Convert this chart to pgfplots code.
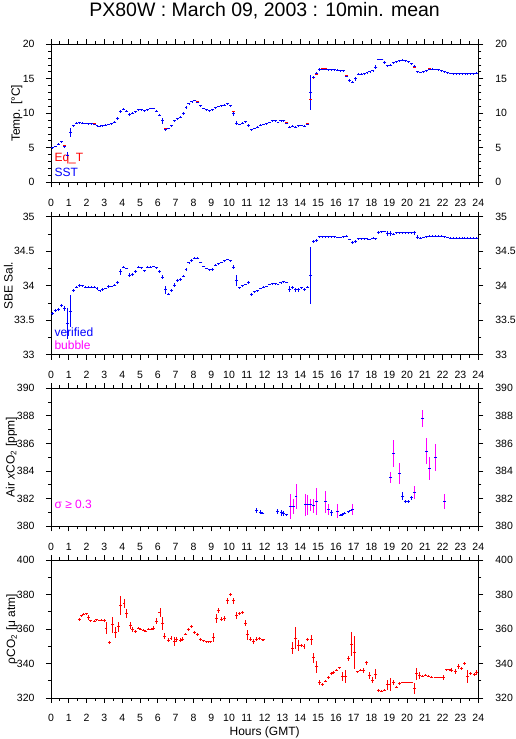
\documentclass[border=0pt]{standalone}
\usepackage{pgfplots}
\usepackage{pgfplotstable}
\pgfplotsset{compat=1.18}
\usepackage{fontspec}
\setmainfont{Liberation Sans}
\definecolor{myblue}{RGB}{0,0,255}
\definecolor{myred}{RGB}{255,0,0}
\definecolor{mymag}{RGB}{255,0,255}

% SST, 10-min means starting at 0:00 (index k -> hour (k+0.5)/6)
\pgfplotstableread[row sep=\\]{y e\\
5.0 0.1\\ 5.2 0.1\\ 5.5 0.15\\ 5.9 0.1\\ 5.2 0.2\\ 3.9 0.5\\ 7.2 0.6\\ 8.2 0.15\\ 8.6 0.1\\ 8.65 0.1\\
8.6 0.1\\ 8.55 0.1\\ 8.5 0.1\\ 8.5 0.1\\ 8.45 0.1\\ 8.2 0.1\\ 8.15 0.1\\ 8.2 0.1\\ 8.3 0.1\\ 8.4 0.1\\
8.5 0.1\\ 8.7 0.15\\ 9.3 0.2\\ 10.3 0.2\\ 10.6 0.1\\ 10.3 0.15\\ 9.8 0.2\\ 10.0 0.15\\ 10.2 0.15\\ 10.5 0.1\\
10.5 0.1\\ 10.4 0.1\\ 10.55 0.1\\ 10.7 0.1\\ 10.7 0.1\\ 10.3 0.15\\ 9.75 0.15\\ 8.9 0.4\\ 7.7 0.2\\ 7.8 0.1\\
8.2 0.15\\ 8.9 0.15\\ 9.2 0.15\\ 9.4 0.15\\ 10.0 0.2\\ 10.8 0.2\\ 11.4 0.15\\ 11.7 0.1\\ 11.9 0.1\\ 11.6 0.15\\
11.1 0.15\\ 10.7 0.1\\ 10.5 0.1\\ 10.4 0.1\\ 10.5 0.15\\ 10.8 0.1\\ 11.0 0.1\\ 11.1 0.1\\ 11.2 0.1\\ 11.4 0.1\\
11.1 0.15\\ 10.0 0.4\\ 8.6 0.3\\ 8.4 0.1\\ 8.6 0.1\\ 8.8 0.1\\ 8.2 0.2\\ 7.6 0.15\\ 7.8 0.1\\ 8.0 0.1\\
8.3 0.1\\ 8.4 0.1\\ 8.5 0.1\\ 8.7 0.1\\ 8.9 0.1\\ 8.9 0.1\\ 8.7 0.1\\ 8.9 0.1\\ 8.9 0.1\\ 8.6 0.15\\
8.0 0.2\\ 8.15 0.1\\ 8.0 0.15\\ 8.2 0.1\\ 8.25 0.1\\ 8.1 0.15\\ 8.45 0.1\\ 13.0 2.5\\ 15.2 0.15\\ 15.8 0.2\\
16.3 0.2\\ 16.4 0.1\\ 16.4 0.1\\ 16.3 0.1\\ 16.3 0.1\\ 16.3 0.1\\ 16.25 0.1\\ 16.2 0.1\\ 16.2 0.1\\ 15.4 0.2\\
14.7 0.2\\ 14.5 0.15\\ 15.0 0.3\\ 15.7 0.1\\ 15.7 0.1\\ 15.75 0.1\\ 15.9 0.1\\ 16.0 0.1\\ 16.15 0.1\\ 16.7 0.25\\
17.8 0.1\\ 17.8 0.1\\ 17.4 0.2\\ 16.9 0.15\\ 17.0 0.1\\ 17.3 0.15\\ 17.5 0.1\\ 17.65 0.1\\ 17.7 0.1\\ 17.65 0.1\\
17.5 0.1\\ 17.2 0.15\\ 16.8 0.25\\ 16.0 0.15\\ 15.95 0.1\\ 16.0 0.1\\ 16.2 0.1\\ 16.4 0.1\\ 16.4 0.1\\ 16.35 0.1\\
16.3 0.1\\ 16.2 0.1\\ 16.0 0.1\\ 15.9 0.1\\ 15.8 0.1\\ 15.75 0.1\\ 15.75 0.1\\ 15.75 0.1\\ 15.75 0.1\\ 15.75 0.1\\
15.75 0.1\\ 15.75 0.1\\ 15.75 0.1\\ 15.8 0.15\\
}\sst

% Eq_T where it differs visibly from SST
\pgfplotstableread[row sep=\\]{x y e\\
0.583 5.95 0.05\\ 0.75 5.3 0.05\\ 2.083 8.55 0.05\\ 2.25 8.55 0.05\\ 2.417 8.5 0.05\\ 6.417 7.8 0.05\\
7.583 10.9 0.05\\ 7.75 11.45 0.05\\ 8.25 11.65 0.05\\ 9.083 10.6 0.05\\ 9.917 11.45 0.05\\ 10.25 10.3 0.1\\
10.917 8.85 0.05\\ 12.417 9.0 0.05\\ 12.583 9.0 0.05\\ 12.917 8.95 0.05\\ 13.083 8.95 0.05\\ 13.25 8.7 0.05\\
14.417 8.55 0.05\\ 14.583 12.0 0.1\\ 14.75 15.15 0.05\\ 14.917 15.7 0.05\\ 15.25 16.45 0.05\\ 15.417 16.45 0.05\\
16.583 15.5 0.05\\ 18.25 16.6 0.05\\ 18.417 17.85 0.05\\ 18.583 17.85 0.05\\ 19.25 17.4 0.05\\ 20.417 16.7 0.05\\
21.25 16.45 0.05\\
}\eqt

% SBE salinity, 10-min means
\pgfplotstableread[row sep=\\]{y e\\
33.6 .02\\ 33.64 .02\\ 33.65 .02\\ 33.71 .02\\ 33.67 .03\\ 33.45 .22\\ 33.63 .23\\ 33.93 .02\\ 33.98 .02\\ 34.0 .02\\
34.0 .01\\ 33.98 .01\\ 33.98 .01\\ 33.98 .01\\ 33.98 .01\\ 33.96 .02\\ 33.93 .01\\ 33.94 .02\\ 33.96 .01\\ 33.99 .02\\
33.99 .01\\ 34.01 .02\\ 34.05 .02\\ 34.2 .04\\ 34.27 .02\\ 34.25 .01\\ 34.15 .03\\ 34.16 .02\\ 34.21 .02\\ 34.27 .02\\
34.26 .01\\ 34.22 .01\\ 34.27 .01\\ 34.27 .01\\ 34.28 .01\\ 34.26 .01\\ 34.21 .02\\ 34.12 .03\\ 33.94 .06\\ 33.88 .02\\
33.93 .02\\ 34.01 .03\\ 34.08 .02\\ 34.09 .02\\ 34.14 .02\\ 34.24 .02\\ 34.33 .02\\ 34.37 .02\\ 34.4 .01\\ 34.4 .01\\
34.34 .01\\ 34.28 .01\\ 34.25 .01\\ 34.23 .01\\ 34.23 .02\\ 34.3 .02\\ 34.32 .01\\ 34.34 .01\\ 34.36 .01\\ 34.38 .01\\
34.36 .01\\ 34.27 .03\\ 34.07 .08\\ 33.97 .01\\ 34.0 .01\\ 34.02 .01\\ 34.05 .02\\ 33.87 .02\\ 33.91 .01\\ 33.93 .01\\
33.96 .01\\ 33.98 .01\\ 33.99 .01\\ 34.02 .01\\ 34.03 .01\\ 34.03 .01\\ 34.02 .01\\ 34.04 .01\\ 34.06 .01\\ 34.05 .01\\
33.95 .04\\ 33.97 .02\\ 33.94 .03\\ 33.94 .03\\ 33.97 .01\\ 33.95 .02\\ 33.98 .01\\ 34.15 .41\\ 34.64 .02\\ 34.66 .02\\
34.71 .01\\ 34.71 .01\\ 34.71 .01\\ 34.71 .01\\ 34.71 .01\\ 34.71 .01\\ 34.70 .01\\ 34.70 .01\\ 34.71 .01\\ 34.72 .02\\
34.67 .01\\ 34.63 .02\\ 34.64 .02\\ 34.68 .01\\ 34.68 .01\\ 34.68 .01\\ 34.68 .01\\ 34.67 .01\\ 34.69 .01\\ 34.68 .01\\
34.77 .02\\ 34.78 .01\\ 34.79 .01\\ 34.76 .04\\ 34.76 .04\\ 34.75 .01\\ 34.77 .01\\ 34.77 .01\\ 34.77 .01\\ 34.77 .01\\
34.77 .01\\ 34.77 .01\\ 34.77 .03\\ 34.70 .03\\ 34.69 .01\\ 34.70 .01\\ 34.71 .01\\ 34.72 .01\\ 34.72 .01\\ 34.72 .01\\
34.72 .01\\ 34.72 .01\\ 34.71 .01\\ 34.70 .01\\ 34.69 .01\\ 34.69 .01\\ 34.69 .01\\ 34.69 .01\\ 34.69 .01\\ 34.69 .01\\
34.69 .01\\ 34.69 .01\\ 34.69 .01\\ 34.69 .01\\
}\sal

% Air xCO2: verified (sigma < 0.3)
\pgfplotstableread[row sep=\\]{x y e\\
11.55 381.16 0.2\\ 11.74 381.04 0.12\\ 11.9 380.95 0.08\\ 12.73 381.07 0.18\\ 12.92 380.97 0.22\\
13.05 380.92 0.2\\ 13.2 380.85 0.05\\ 15.73 380.97 0.2\\ 16.24 380.8 0.08\\ 16.39 380.85 0.08\\
16.5 380.95 0.06\\ 16.7 381.05 0.06\\ 16.8 381.15 0.06\\ 19.76 382.18 0.3\\ 19.89 381.8 0.1\\
20.07 381.8 0.1\\ 20.26 382.08 0.15\\
}\airok
% Air xCO2: sigma >= 0.3
\pgfplotstableread[row sep=\\]{x y e\\
13.43 381.45 0.9\\ 13.6 381.45 0.55\\ 13.76 382.18 0.92\\ 14.27 381.55 0.8\\ 14.42 381.55 0.7\\
14.59 381.55 0.45\\ 14.74 381.5 0.5\\ 14.92 381.78 0.97\\ 15.43 381.78 0.8\\ 15.58 381.2 0.4\\
16.09 381.1 0.5\\ 16.93 381.25 0.4\\ 19.08 383.54 0.42\\ 19.23 385.28 0.97\\ 19.57 383.83 0.75\\
20.41 382.45 0.48\\ 20.88 387.82 0.63\\ 21.07 385.45 0.97\\ 21.24 384.19 0.86\\ 21.57 384.99 0.97\\
22.08 381.8 0.55\\
}\airsig

% pCO2
\pgfplotstableread[row sep=\\]{x y e\\
1.59 365.4 0.8\\ 1.72 367.7 0.6\\ 1.85 368.5 0.5\\ 1.97 368.8 0.5\\ 2.1 366.5 1.5\\ 2.23 364.8 0.6\\
2.42 364.4 0.6\\ 2.57 365.4 0.5\\ 2.72 365.0 0.5\\ 2.85 365.2 0.5\\ 2.98 365.0 1.0\\ 3.09 360.6 3.7\\
3.28 352.3 0.8\\ 3.46 362.5 4.7\\ 3.61 358.1 3.2\\ 3.78 361.2 3.0\\ 3.91 373.5 5.4\\ 4.1 375.0 2.6\\
4.25 368.8 2.7\\ 4.44 361.9 2.0\\ 4.59 359.6 1.5\\ 4.72 358.7 0.8\\ 4.91 360.4 0.6\\ 5.04 360.0 0.5\\
5.19 359.2 0.6\\ 5.32 358.8 0.5\\ 5.47 360.0 0.5\\ 5.62 360.0 0.5\\ 5.75 360.6 1.0\\ 5.94 364.6 1.5\\
6.12 369.6 2.4\\ 6.27 363.1 3.8\\ 6.4 355.8 1.8\\ 6.59 353.5 1.2\\ 6.74 354.8 1.0\\ 6.91 352.9 2.7\\
7.06 353.8 1.5\\ 7.25 353.5 1.0\\ 7.4 354.2 1.0\\ 7.57 357.1 0.8\\ 7.72 359.6 0.8\\ 7.9 361.5 0.8\\
8.05 358.1 0.8\\ 8.22 356.7 0.8\\ 8.41 353.8 1.0\\ 8.56 353.3 0.5\\ 8.71 352.7 0.5\\ 8.84 352.5 0.5\\
8.97 352.5 0.5\\ 9.12 355.0 2.5\\ 9.27 366.0 2.5\\ 9.4 370.6 1.5\\ 9.55 365.8 1.0\\ 9.74 366.3 1.5\\
9.91 376.3 1.8\\ 10.09 379.8 0.8\\ 10.24 376.3 1.8\\ 10.43 367.9 2.0\\ 10.58 369.2 0.8\\ 10.77 369.6 0.8\\
10.9 363.5 2.0\\ 11.03 356.7 2.9\\ 11.18 354.2 1.0\\ 11.37 352.9 1.5\\ 11.52 354.2 1.0\\ 11.7 354.6 1.0\\
11.89 353.8 0.5\\ 11.95 353.8 0.3\\
13.56 348.8 3.5\\ 13.75 354.8 6.5\\ 13.9 350.4 3.0\\ 14.08 350.4 1.0\\ 14.21 350.0 1.5\\ 14.42 353.8 1.0\\
14.61 353.8 2.9\\ 14.74 343.3 2.9\\ 14.93 338.1 3.4\\ 15.07 329.2 1.5\\ 15.24 327.9 1.0\\ 15.43 329.8 0.8\\
15.58 331.7 0.8\\ 15.73 334.2 0.8\\ 15.86 335.0 0.8\\ 16.05 336.2 0.6\\ 16.2 337.5 0.6\\ 16.39 332.7 2.6\\
16.55 332.7 3.8\\ 16.7 342.7 1.5\\ 16.89 351.3 7.0\\ 17.04 346.2 9.6\\ 17.23 335.2 0.6\\ 17.4 336.0 0.6\\
17.55 336.0 1.5\\ 17.73 340.4 1.0\\ 17.88 333.1 2.0\\ 18.05 330.4 1.5\\ 18.24 333.7 2.9\\ 18.39 324.4 1.0\\
18.58 324.0 0.6\\ 18.73 324.6 0.8\\ 18.9 327.7 3.0\\ 19.04 327.9 3.8\\ 19.23 328.8 1.5\\ 19.38 326.3 0.6\\
19.57 328.3 1.0\\ 19.74 329.2 0.3\\ 19.91 329.2 0.3\\ 20.08 329.2 0.3\\ 20.25 329.2 0.3\\ 20.41 325.6 3.2\\
20.54 334.0 3.4\\ 20.69 333.1 2.0\\ 20.88 332.7 0.8\\ 21.05 333.1 0.6\\ 21.2 332.7 0.6\\ 21.39 332.1 0.6\\
21.57 331.9 0.5\\ 21.74 331.9 0.5\\ 21.91 331.9 0.5\\ 22.04 331.9 1.5\\ 22.23 336.5 0.5\\ 22.38 336.5 0.5\\
22.51 336.2 1.0\\ 22.7 335.6 1.5\\ 22.88 338.1 1.5\\ 23.07 337.1 0.8\\ 23.22 340.0 0.8\\ 23.39 332.7 3.8\\
23.58 334.2 1.0\\ 23.76 333.7 0.8\\ 23.91 335.0 1.5\\
}\pco

\pgfplotsset{
  panel/.style={
    scale only axis, width=427.3pt, height=138pt,
    xmin=0, xmax=24, xtick={0,1,...,24}, minor x tick num=1,
    tick align=outside, major tick length=5pt, minor tick length=3pt,
    axis line style={line width=0.9pt},
    every tick/.style={black, line width=0.9pt},
    tick label style={font=\fontsize{10.5}{12}\selectfont},
    xticklabel style={yshift=-8pt},
    yticklabel style={xshift=-8pt},
    /pgf/number format/assume math mode=true,
    ylabel style={font=\fontsize{12}{14}\selectfont, anchor=base},
  },
  rightax/.style={
    scale only axis, width=427.3pt, height=138pt,
    xmin=0, xmax=24, hide x axis, axis y line*=right,
    y axis line style={draw=none}, ytick style={draw=none},
    tick align=outside, major tick length=5pt,
    tick label style={font=\fontsize{10.5}{12}\selectfont},
    yticklabel style={xshift=8.5pt},
    /pgf/number format/assume math mode=true,
  },
  % 10-minute mean: horizontal dash spanning 10 min (mark -) plus vertical std bar
  ebar/.style={only marks, mark=-, mark size=1.484pt,
    mark options={draw=#1, line width=0.9pt, solid},
    error bars/.cd, y dir=both, y explicit,
    error mark=none, error bar style={draw=#1, line width=0.9pt, solid}},
  xonly/.style={only marks, mark=-, mark size=1.484pt,
    mark options={draw=#1, line width=0.9pt, solid}},
  yonly/.style={draw=none, mark=none,
    error bars/.cd, y dir=both, y explicit,
    error mark=none, error bar style={draw=#1, line width=0.9pt, solid}},
}

\begin{document}
\begin{tikzpicture}
\path[use as bounding box, fill=white] (0pt,0pt) rectangle (515pt,-739pt);

\node[anchor=base, font=\fontsize{19.5}{22}\selectfont] at (264.6pt,-16.5pt) {PX80W : March 09, 2003 : 10min. mean};

% Panel 1: temperature
\begin{axis}[panel, at={(51pt,-44.3pt)}, anchor=north west,
  ymin=0, ymax=20, ytick={0,5,...,20}, minor y tick num=4,
  ylabel={Temp. [°C]}, ylabel style={at={(axis description cs:-0.073,0.5)}}]
\addplot[ebar=myred] table[x=x, y=y, y error=e] {\eqt};
\addplot[ebar=myblue] table[x expr={(\coordindex+0.5)/6}, y=y, y error=e] {\sst};
\node[anchor=west, text=myred, font=\fontsize{12}{14}\selectfont] at (rel axis cs:0.0,0.169) {Eq\_T};
\node[anchor=west, text=myblue, font=\fontsize{12}{14}\selectfont] at (rel axis cs:0.0,0.075) {SST};
\end{axis}
\begin{axis}[rightax, at={(51pt,-44.3pt)}, anchor=north west,
  ymin=0, ymax=20, ytick={0,5,...,20}]
\end{axis}

% Panel 2: salinity
\begin{axis}[panel, at={(51pt,-216.7pt)}, anchor=north west,
  ymin=33, ymax=35, ytick={33,33.5,...,35}, minor y tick num=1,
  ylabel={SBE Sal.}, ylabel style={at={(axis description cs:-0.0896,0.5)}}]
\addplot[ebar=myblue] table[x expr={(\coordindex+0.5)/6}, y=y, y error=e] {\sal};
\node[anchor=west, text=myblue, font=\fontsize{12}{14}\selectfont] at (rel axis cs:0.0,0.16) {verified};
\node[anchor=west, text=mymag, font=\fontsize{12}{14}\selectfont] at (rel axis cs:0.0,0.066) {bubble};
\end{axis}
\begin{axis}[rightax, at={(51pt,-216.7pt)}, anchor=north west,
  ymin=33, ymax=35, ytick={33,33.5,...,35}]
\end{axis}

% Panel 3: air xCO2
\begin{axis}[panel, at={(51pt,-388.3pt)}, anchor=north west,
  ymin=380, ymax=390, ytick={380,382,...,390}, minor y tick num=1,
  ylabel={Air \textit{x}CO\textsubscript{2} [ppm]}, ylabel style={at={(axis description cs:-0.085,0.5)}}]
\addplot[yonly=mymag] table[x=x, y=y, y error=e] {\airsig};
\addplot[xonly=myblue] table[x=x, y=y] {\airsig};
\addplot[ebar=myblue] table[x=x, y=y, y error=e] {\airok};
\node[anchor=west, text=mymag, font=\fontsize{12}{14}\selectfont] at (rel axis cs:0.0,0.16) {σ ≥ 0.3};
\end{axis}
\begin{axis}[rightax, at={(51pt,-388.3pt)}, anchor=north west,
  ymin=380, ymax=390, ytick={380,382,...,390}]
\end{axis}

% Panel 4: pCO2
\begin{axis}[panel, at={(51pt,-560pt)}, anchor=north west,
  ymin=320, ymax=400, ytick={320,340,...,400}, minor y tick num=1,
  ylabel={ρCO\textsubscript{2} [μ atm]}, ylabel style={at={(axis description cs:-0.084,0.5)}}]
\addplot[ebar=myred] table[x=x, y=y, y error=e] {\pco};
\end{axis}
\begin{axis}[rightax, at={(51pt,-560pt)}, anchor=north west,
  ymin=320, ymax=400, ytick={320,340,...,400}]
\end{axis}

\node[anchor=base, font=\fontsize{12}{14}\selectfont] at (264.6pt,-735pt) {Hours (GMT)};
\end{tikzpicture}
\end{document}
